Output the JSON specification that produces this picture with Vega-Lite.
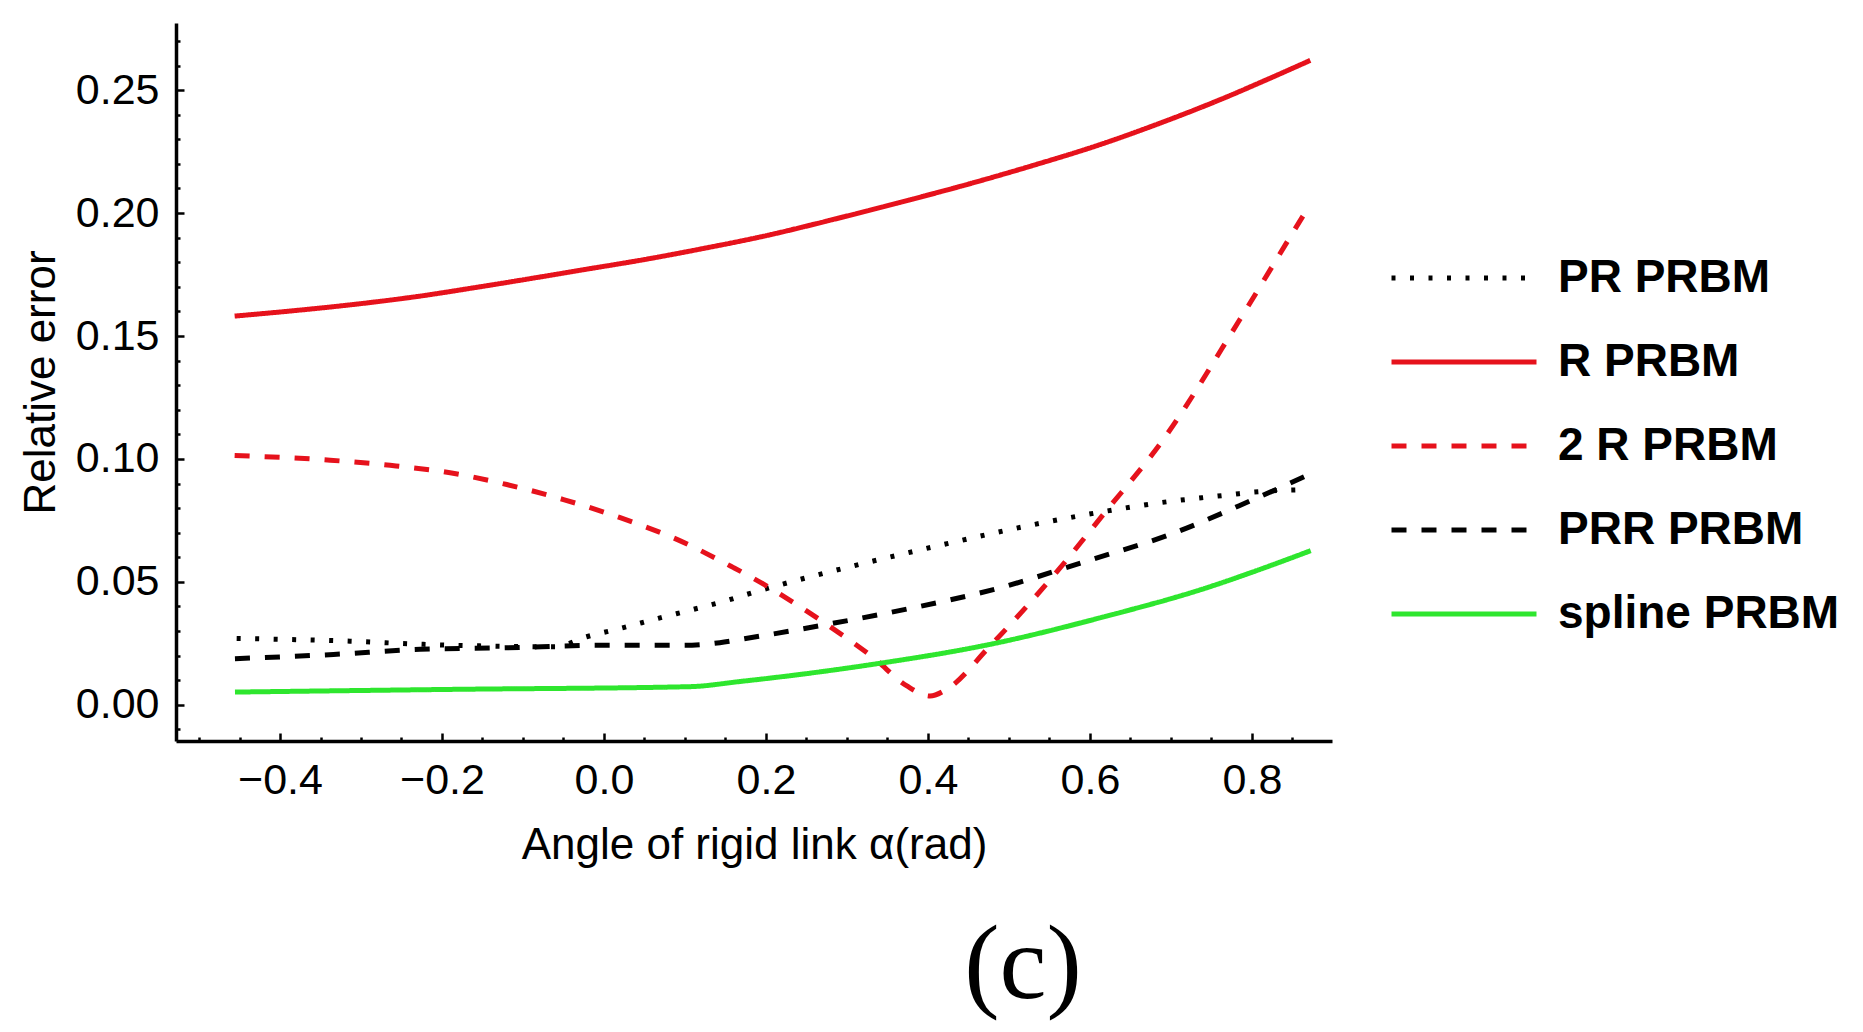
{
  "$schema": "https://vega.github.io/schema/vega-lite/v6.json",
  "autosize": {"type": "none"},
  "width": 1156,
  "height": 718,
  "padding": {"left": 176, "top": 23, "right": 531, "bottom": 291},
  "background": "white",
  "config": {"view": {"stroke": null}},
  "title": {
    "text": "(c)",
    "orient": "bottom",
    "anchor": "middle",
    "dx": 269,
    "offset": 47,
    "font": "Liberation Serif",
    "fontSize": 106,
    "fontWeight": "normal",
    "color": "#000"
  },
  "data": {
    "values": [
      {"model": "PR PRBM", "alpha": -0.4535, "err": 0.0270},
      {"model": "PR PRBM", "alpha": -0.3136, "err": 0.0259},
      {"model": "PR PRBM", "alpha": -0.223, "err": 0.0246},
      {"model": "PR PRBM", "alpha": -0.12, "err": 0.0238},
      {"model": "PR PRBM", "alpha": -0.06, "err": 0.0236},
      {"model": "PR PRBM", "alpha": -0.0214, "err": 0.0277},
      {"model": "PR PRBM", "alpha": 0.024, "err": 0.0314},
      {"model": "PR PRBM", "alpha": 0.067, "err": 0.0352},
      {"model": "PR PRBM", "alpha": 0.11, "err": 0.0388},
      {"model": "PR PRBM", "alpha": 0.1535, "err": 0.0426},
      {"model": "PR PRBM", "alpha": 0.176, "err": 0.0449},
      {"model": "PR PRBM", "alpha": 0.242, "err": 0.0510},
      {"model": "PR PRBM", "alpha": 0.3325, "err": 0.0585},
      {"model": "PR PRBM", "alpha": 0.419, "err": 0.0652},
      {"model": "PR PRBM", "alpha": 0.5053, "err": 0.0716},
      {"model": "PR PRBM", "alpha": 0.596, "err": 0.0774},
      {"model": "PR PRBM", "alpha": 0.6864, "err": 0.0822},
      {"model": "PR PRBM", "alpha": 0.777, "err": 0.0856},
      {"model": "PR PRBM", "alpha": 0.801, "err": 0.0865},
      {"model": "PR PRBM", "alpha": 0.869, "err": 0.0875},

      {"model": "R PRBM", "alpha": -0.456, "err": 0.1581},
      {"model": "R PRBM", "alpha": -0.38, "err": 0.1604},
      {"model": "R PRBM", "alpha": -0.31, "err": 0.1628},
      {"model": "R PRBM", "alpha": -0.23, "err": 0.1661},
      {"model": "R PRBM", "alpha": -0.161, "err": 0.1696},
      {"model": "R PRBM", "alpha": -0.09, "err": 0.1734},
      {"model": "R PRBM", "alpha": -0.021, "err": 0.1772},
      {"model": "R PRBM", "alpha": 0.05, "err": 0.1811},
      {"model": "R PRBM", "alpha": 0.118, "err": 0.1853},
      {"model": "R PRBM", "alpha": 0.2, "err": 0.1908},
      {"model": "R PRBM", "alpha": 0.283, "err": 0.1974},
      {"model": "R PRBM", "alpha": 0.365, "err": 0.2043},
      {"model": "R PRBM", "alpha": 0.448, "err": 0.2116},
      {"model": "R PRBM", "alpha": 0.53, "err": 0.2194},
      {"model": "R PRBM", "alpha": 0.612, "err": 0.2278},
      {"model": "R PRBM", "alpha": 0.69, "err": 0.2370},
      {"model": "R PRBM", "alpha": 0.7605, "err": 0.2461},
      {"model": "R PRBM", "alpha": 0.82, "err": 0.2545},
      {"model": "R PRBM", "alpha": 0.872, "err": 0.2621},

      {"model": "2 R PRBM", "alpha": -0.456, "err": 0.1014},
      {"model": "2 R PRBM", "alpha": -0.338, "err": 0.0995},
      {"model": "2 R PRBM", "alpha": -0.264, "err": 0.0974},
      {"model": "2 R PRBM", "alpha": -0.19, "err": 0.0944},
      {"model": "2 R PRBM", "alpha": -0.12, "err": 0.0896},
      {"model": "2 R PRBM", "alpha": -0.05, "err": 0.0835},
      {"model": "2 R PRBM", "alpha": 0.02, "err": 0.0761},
      {"model": "2 R PRBM", "alpha": 0.09, "err": 0.0673},
      {"model": "2 R PRBM", "alpha": 0.16, "err": 0.0558},
      {"model": "2 R PRBM", "alpha": 0.176, "err": 0.0530},
      {"model": "2 R PRBM", "alpha": 0.275, "err": 0.0327},
      {"model": "2 R PRBM", "alpha": 0.3325, "err": 0.0192},
      {"model": "2 R PRBM", "alpha": 0.374, "err": 0.0077},
      {"model": "2 R PRBM", "alpha": 0.4025, "err": 0.0036},
      {"model": "2 R PRBM", "alpha": 0.423, "err": 0.0063},
      {"model": "2 R PRBM", "alpha": 0.4765, "err": 0.0239},
      {"model": "2 R PRBM", "alpha": 0.5547, "err": 0.0524},
      {"model": "2 R PRBM", "alpha": 0.6164, "err": 0.0774},
      {"model": "2 R PRBM", "alpha": 0.6905, "err": 0.1079},
      {"model": "2 R PRBM", "alpha": 0.785, "err": 0.1567},
      {"model": "2 R PRBM", "alpha": 0.8654, "err": 0.2001},
      {"model": "2 R PRBM", "alpha": 0.872, "err": 0.2036},

      {"model": "PRR PRBM", "alpha": -0.4556, "err": 0.0188},
      {"model": "PRR PRBM", "alpha": -0.334, "err": 0.0205},
      {"model": "PRR PRBM", "alpha": -0.227, "err": 0.0226},
      {"model": "PRR PRBM", "alpha": -0.12, "err": 0.0232},
      {"model": "PRR PRBM", "alpha": -0.009, "err": 0.0242},
      {"model": "PRR PRBM", "alpha": 0.098, "err": 0.0242},
      {"model": "PRR PRBM", "alpha": 0.143, "err": 0.0253},
      {"model": "PRR PRBM", "alpha": 0.168, "err": 0.0266},
      {"model": "PRR PRBM", "alpha": 0.275, "err": 0.0327},
      {"model": "PRR PRBM", "alpha": 0.382, "err": 0.0395},
      {"model": "PRR PRBM", "alpha": 0.489, "err": 0.0476},
      {"model": "PRR PRBM", "alpha": 0.596, "err": 0.0585},
      {"model": "PRR PRBM", "alpha": 0.699, "err": 0.0693},
      {"model": "PRR PRBM", "alpha": 0.8016, "err": 0.0835},
      {"model": "PRR PRBM", "alpha": 0.872, "err": 0.0939},

      {"model": "spline PRBM", "alpha": -0.4556, "err": 0.0052},
      {"model": "spline PRBM", "alpha": -0.186, "err": 0.0063},
      {"model": "spline PRBM", "alpha": 0.106, "err": 0.0074},
      {"model": "spline PRBM", "alpha": 0.168, "err": 0.0095},
      {"model": "spline PRBM", "alpha": 0.25, "err": 0.0127},
      {"model": "spline PRBM", "alpha": 0.3325, "err": 0.0165},
      {"model": "spline PRBM", "alpha": 0.4765, "err": 0.0246},
      {"model": "spline PRBM", "alpha": 0.6206, "err": 0.0361},
      {"model": "spline PRBM", "alpha": 0.744, "err": 0.0476},
      {"model": "spline PRBM", "alpha": 0.81, "err": 0.0551},
      {"model": "spline PRBM", "alpha": 0.8725, "err": 0.0627}
    ]
  },
  "resolve": {"axis": {"x": "independent", "y": "independent"}},
  "layer": [
    {
      "mark": {"type": "point", "opacity": 0, "size": 1},
      "encoding": {
        "x": {
          "field": "alpha",
          "type": "quantitative",
          "scale": {"domain": [-0.5284, 0.8988], "nice": false, "zero": false},
          "axis": {
            "orient": "bottom",
            "values": [-0.5, -0.45, -0.35, -0.3, -0.25, -0.15, -0.1, -0.05, 0.05, 0.1, 0.15, 0.25, 0.3, 0.35, 0.45, 0.5, 0.55, 0.65, 0.7, 0.75, 0.85],
            "tickSize": -4,
            "tickWidth": 2.5,
            "tickColor": "#000",
            "labels": false,
            "domain": false,
            "grid": false,
            "title": null
          }
        },
        "y": {
          "field": "err",
          "type": "quantitative",
          "scale": {"domain": [-0.0147, 0.2773], "nice": false, "zero": false},
          "axis": {
            "orient": "left",
            "values": [-0.01, 0.01, 0.02, 0.03, 0.04, 0.06, 0.07, 0.08, 0.09, 0.11, 0.12, 0.13, 0.14, 0.16, 0.17, 0.18, 0.19, 0.21, 0.22, 0.23, 0.24, 0.26, 0.27],
            "tickSize": -4,
            "tickWidth": 2.5,
            "tickColor": "#000",
            "labels": false,
            "domain": false,
            "grid": false,
            "title": null
          }
        }
      }
    },
    {
      "mark": {"type": "line", "strokeWidth": 5, "strokeCap": "butt", "interpolate": "monotone"},
      "encoding": {
        "x": {
          "field": "alpha",
          "type": "quantitative",
          "scale": {"domain": [-0.5284, 0.8988], "nice": false, "zero": false},
          "axis": {
            "orient": "bottom",
            "values": [-0.4, -0.2, 0, 0.2, 0.4, 0.6, 0.8],
            "format": ".1f",
            "tickSize": -8,
            "tickWidth": 2.5,
            "tickColor": "#000",
            "domainColor": "#000",
            "domainWidth": 3.5,
            "grid": false,
            "labelFont": "Liberation Sans",
            "labelFontSize": 43,
            "labelColor": "#000",
            "labelPadding": 26,
            "labelFlush": false,
            "labelOverlap": false,
            "title": "Angle of rigid link α(rad)",
            "titleFont": "Liberation Sans",
            "titleFontSize": 44,
            "titleFontWeight": "normal",
            "titleColor": "#000",
            "titlePadding": 21
          }
        },
        "y": {
          "field": "err",
          "type": "quantitative",
          "scale": {"domain": [-0.0147, 0.2773], "nice": false, "zero": false},
          "axis": {
            "orient": "left",
            "values": [0, 0.05, 0.1, 0.15, 0.2, 0.25],
            "format": ".2f",
            "tickSize": -8,
            "tickWidth": 2.5,
            "tickColor": "#000",
            "domainColor": "#000",
            "domainWidth": 3.5,
            "grid": false,
            "labelFont": "Liberation Sans",
            "labelFontSize": 43,
            "labelColor": "#000",
            "labelPadding": 25,
            "labelOverlap": false,
            "title": "Relative error",
            "titleFont": "Liberation Sans",
            "titleFontSize": 44,
            "titleFontWeight": "normal",
            "titleColor": "#000",
            "titlePadding": 12
          }
        },
        "color": {
          "field": "model",
          "type": "nominal",
          "sort": null,
          "scale": {
            "domain": ["PR PRBM", "R PRBM", "2 R PRBM", "PRR PRBM", "spline PRBM"],
            "range": ["#000000", "#e6121c", "#e6121c", "#000000", "#2ee62e"]
          },
          "legend": {
            "title": null,
            "orient": "none",
            "legendX": 1213,
            "legendY": 232,
            "symbolType": "stroke",
            "symbolSize": 21025,
            "symbolStrokeWidth": 5,
            "clipHeight": 46,
            "labelFont": "Liberation Sans",
            "labelFontSize": 46,
            "labelFontWeight": "bold",
            "labelColor": "#000",
            "labelOffset": 19,
            "labelLimit": 0,
            "rowPadding": 38
          }
        },
        "strokeDash": {
          "field": "model",
          "type": "nominal",
          "sort": null,
          "scale": {
            "domain": ["PR PRBM", "R PRBM", "2 R PRBM", "PRR PRBM", "spline PRBM"],
            "range": [[4, 14.5], [1, 0], [15, 15], [15, 15], [1, 0]]
          },
          "legend": {
            "title": null,
            "orient": "none",
            "legendX": 1213,
            "legendY": 232,
            "symbolType": "stroke",
            "symbolSize": 21025,
            "symbolStrokeWidth": 5,
            "clipHeight": 46,
            "labelFont": "Liberation Sans",
            "labelFontSize": 46,
            "labelFontWeight": "bold",
            "labelColor": "#000",
            "labelOffset": 19,
            "labelLimit": 0,
            "rowPadding": 38
          }
        }
      }
    }
  ]
}
